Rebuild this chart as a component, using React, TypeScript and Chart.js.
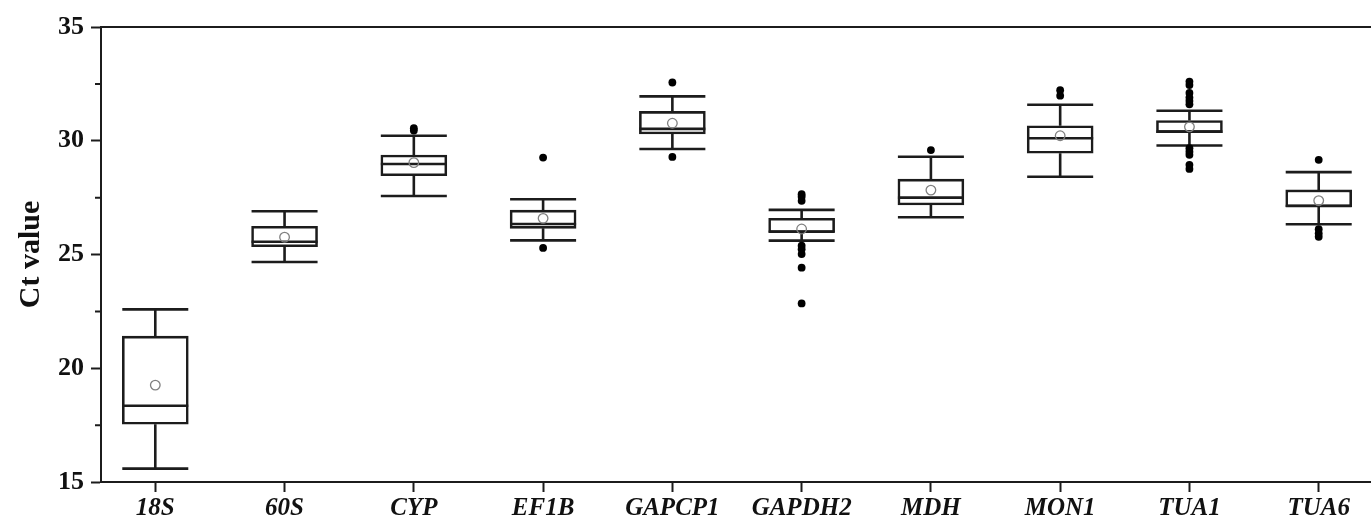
import React, { useEffect, useRef } from 'react';
import { Chart, registerables } from 'chart.js';

Chart.register(...registerables);

const categories = ['18S', '60S', 'CYP', 'EF1B', 'GAPCP1', 'GAPDH2', 'MDH', 'MON1', 'TUA1', 'TUA6'];
const whiskerLow = [15.59, 24.67, 27.57, 25.62, 29.64, 25.61, 26.64, 28.42, 29.79, 26.33];
const q1 = [17.54, 25.34, 28.46, 26.15, 30.3, 25.97, 27.18, 29.45, 30.36, 27.1];
const median = [18.35, 25.56, 28.98, 26.34, 30.52, 26.0, 27.5, 30.11, 30.4, 27.13];
const q3 = [21.41, 26.24, 29.37, 26.95, 31.29, 26.59, 28.31, 30.66, 30.89, 27.84];
const whiskerHigh = [22.59, 26.9, 30.22, 27.43, 31.95, 26.96, 29.3, 31.58, 31.32, 28.62];
const means = [19.26, 25.76, 29.04, 26.59, 30.77, 26.12, 27.83, 30.22, 30.61, 27.37];
const outliers: number[][] = [
  [],
  [],
  [30.55, 30.45],
  [29.26, 25.29],
  [32.56, 29.29],
  [27.65, 27.54, 27.36, 25.39, 25.23, 25.02, 24.42, 22.85],
  [29.59],
  [32.22, 31.98],
  [32.6, 32.45, 32.1, 31.9, 31.75, 31.6, 29.67, 29.52, 29.38, 28.94, 28.76],
  [29.16, 26.11, 25.93, 25.78],
];
const yTicks = [15, 20, 25, 30, 35];
const yMinorTicks = [17.5, 22.5, 27.5, 32.5];

const FONT = '"Liberation Serif", "Times New Roman", Times, serif';
const INK = '#1c1c1c';

const boxPlugin = {
  id: 'boxParts',
  afterDatasetDraw(chart: any, args: any) {
    if (args.index !== 0) return;
    const { ctx, scales } = chart;
    const xs = scales.x;
    const ys = scales.y;
    const half = 33;
    ctx.save();
    ctx.strokeStyle = INK;
    ctx.lineWidth = 2.6;
    ctx.lineCap = 'butt';
    categories.forEach((_, i) => {
      const cx = xs.getPixelForValue(i + 1);
      const yHi = ys.getPixelForValue(whiskerHigh[i]);
      const yLo = ys.getPixelForValue(whiskerLow[i]);
      const yQ1 = ys.getPixelForValue(q1[i]);
      const yQ3 = ys.getPixelForValue(q3[i]);
      const yMed = ys.getPixelForValue(median[i]);
      ctx.beginPath();
      ctx.moveTo(cx, yQ3);
      ctx.lineTo(cx, yHi);
      ctx.moveTo(cx - half, yHi);
      ctx.lineTo(cx + half, yHi);
      ctx.moveTo(cx, yQ1);
      ctx.lineTo(cx, yLo);
      ctx.moveTo(cx - half, yLo);
      ctx.lineTo(cx + half, yLo);
      ctx.moveTo(cx - half, yMed);
      ctx.lineTo(cx + half, yMed);
      ctx.stroke();
    });
    ctx.restore();
  },
  afterDraw(chart: any) {
    const { ctx, chartArea, scales } = chart;
    ctx.save();
    ctx.strokeStyle = INK;
    ctx.lineWidth = 2;
    ctx.beginPath();
    ctx.moveTo(chartArea.left, chartArea.top);
    ctx.lineTo(chartArea.right, chartArea.top);
    ctx.lineTo(chartArea.right, chartArea.bottom);
    ctx.stroke();
    ctx.beginPath();
    yMinorTicks.forEach((v) => {
      const py = scales.y.getPixelForValue(v);
      ctx.moveTo(chartArea.left - 6, py);
      ctx.lineTo(chartArea.left, py);
    });
    ctx.stroke();
    ctx.restore();
  },
};

export default function App() {
  const ref = useRef<HTMLCanvasElement | null>(null);

  useEffect(() => {
    if (!ref.current) return;
    const boxData = categories.map((_, i) => ({ x: i + 1, y: [q1[i], q3[i]] }));
    const meanData = categories.map((_, i) => ({ x: i + 1, y: means[i] }));
    const outlierData: { x: number; y: number }[] = [];
    outliers.forEach((list, i) => list.forEach((v) => outlierData.push({ x: i + 1, y: v })));

    const chart = new Chart(ref.current, {
      type: 'bar',
      data: {
        datasets: [
          {
            type: 'bar',
            data: boxData as any,
            backgroundColor: '#ffffff',
            borderColor: INK,
            borderWidth: 2.6,
            borderSkipped: false,
            barThickness: 66,
            grouped: false,
            order: 3,
          } as any,
          {
            type: 'scatter',
            data: meanData,
            pointRadius: 4.8,
            pointBackgroundColor: 'rgba(0,0,0,0)',
            pointBorderColor: '#808080',
            pointBorderWidth: 1.3,
            order: 2,
          } as any,
          {
            type: 'scatter',
            data: outlierData,
            pointRadius: 3.9,
            pointBackgroundColor: '#000000',
            pointBorderColor: '#000000',
            pointBorderWidth: 0,
            order: 1,
          } as any,
        ],
      },
      options: {
        responsive: false,
        animation: false,
        layout: { padding: { top: 27, right: 17, left: 0, bottom: 0 } },
        plugins: {
          legend: { display: false },
          tooltip: { enabled: false },
        },
        scales: {
          x: {
            type: 'linear',
            min: 0.58,
            max: 10.42,
            offset: false,
            grid: { offset: false, drawOnChartArea: false, tickLength: 10, tickWidth: 2, tickColor: INK },
            border: { color: INK, width: 2 },
            afterBuildTicks: (scale: any) => {
              scale.ticks = categories.map((_, i) => ({ value: i + 1 }));
            },
            afterFit: (scale: any) => {
              scale.height = 38;
            },
            ticks: {
              autoSkip: false,
              maxRotation: 0,
              padding: 2,
              color: '#111',
              font: { family: FONT, size: 25, weight: 'bold', style: 'italic' },
              callback: (v: any) => categories[Math.round(Number(v)) - 1] ?? '',
            },
          } as any,
          y: {
            type: 'linear',
            min: 15,
            max: 35,
            grid: { drawOnChartArea: false, tickLength: 10, tickWidth: 2, tickColor: INK },
            border: { color: INK, width: 2 },
            afterBuildTicks: (scale: any) => {
              scale.ticks = yTicks.map((v) => ({ value: v }));
            },
            afterFit: (scale: any) => {
              scale.width = 101;
            },
            ticks: {
              padding: 7,
              color: '#111',
              font: { family: FONT, size: 26, weight: 'bold' },
            },
            title: {
              display: true,
              text: 'Ct value',
              color: '#111',
              padding: { top: 13, bottom: 0 },
              font: { family: FONT, size: 30, weight: 'bold' },
            },
          } as any,
        },
      },
      plugins: [boxPlugin],
    });
    return () => chart.destroy();
  }, []);

  return (
    <div
      style={{
        position: 'fixed',
        left: 0,
        top: 0,
        width: 1371,
        height: 520,
        overflow: 'hidden',
        background: '#ffffff',
      }}
    >
      <canvas ref={ref} width={1390} height={520} style={{ display: 'block' }} />
    </div>
  );
}
